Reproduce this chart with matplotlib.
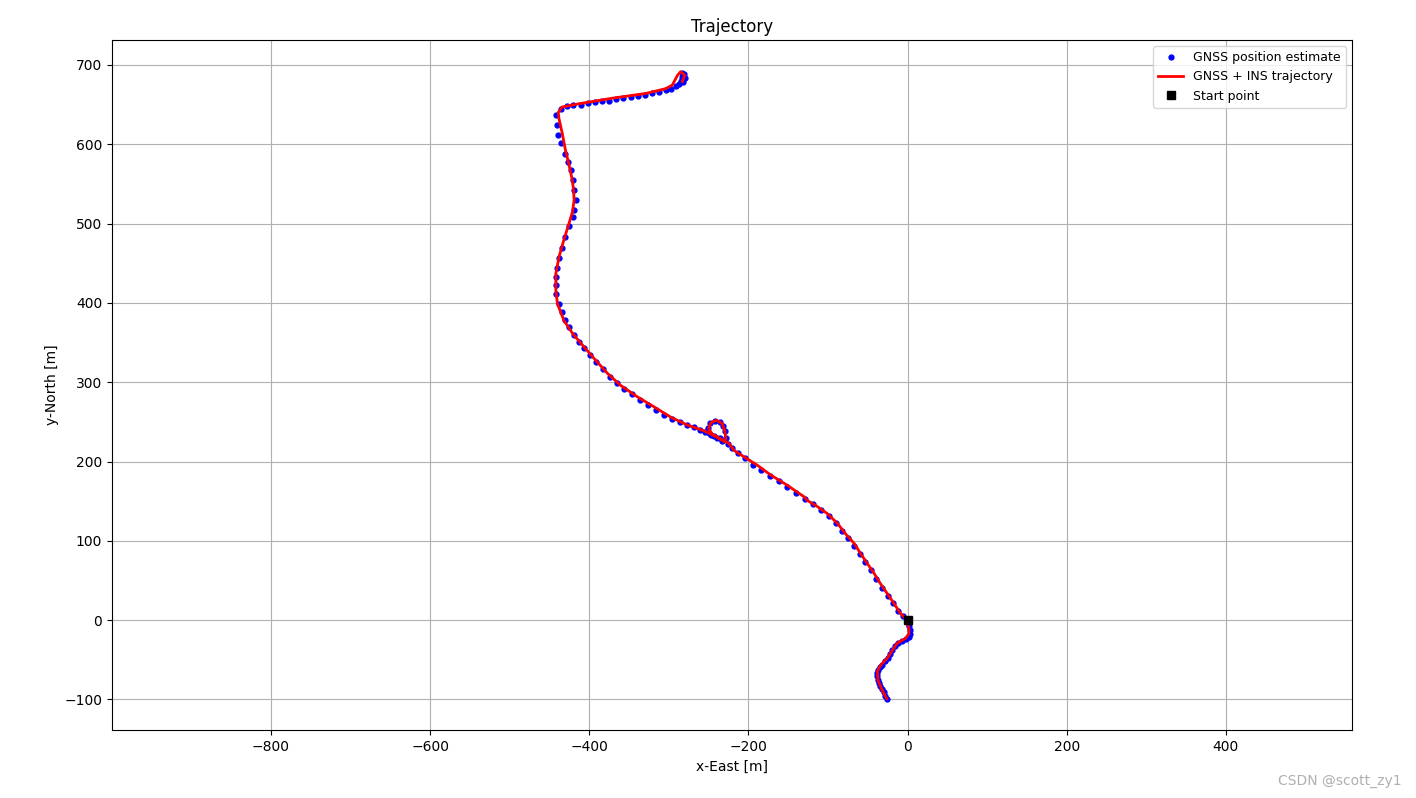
import matplotlib
matplotlib.use("Agg")
import matplotlib.pyplot as plt
import numpy as np

# GNSS position estimates
gnss_x = [-26, -28, -30, -32, -34, -36, -37, -38, -38, -37, -35, -32, -28, -25, -22, -19,
          -16, -12, -7, -2, 2, 3, 3, 2, 1, 0,
          -6, -12, -18, -25, -32, -39, -46, -53, -60, -67, -75, -82, -90, -99, -109,
          -119, -129, -140, -151, -162, -173, -184, -194, -204, -213, -221, -226,
          -228, -230, -232, -236, -242, -248, -251, -249, -243, -236,
          -233, -240, -247, -254, -261,
          -268, -277, -286, -296, -306, -316, -326, -336, -346, -356,
          -365, -374, -383, -391, -399, -406, -413, -419, -425, -430,
          -434, -438, -442, -442, -442, -440, -438, -434, -430, -425,
          -421, -419, -417, -419, -421, -423, -427, -431, -436, -439,
          -441, -442, -436, -428, -420, -411, -402, -393, -384, -375,
          -366, -357, -348, -339, -330, -321, -312, -304, -297, -291,
          -287, -285, -283, -284, -281, -280, -282]
gnss_y = [-99, -95, -91, -87, -83, -79, -75, -71, -67, -63, -59, -56, -52, -48, -43, -38,
          -33, -29, -26, -24, -21, -17, -12, -8, -4, 0,
          5, 12, 21, 31, 41, 52, 63, 73, 83, 94, 104, 113, 122, 131, 139,
          146, 153, 160, 168, 175, 182, 189, 196, 204, 211, 217, 222,
          230, 238, 245, 250, 251, 248, 242, 236, 232, 229,
          226, 229, 233, 237, 240,
          243, 246, 250, 254, 259, 265, 271, 278, 285, 292,
          299, 307, 316, 325, 334, 343, 351, 360, 369, 378,
          389, 399, 411, 422, 433, 444, 456, 469, 483, 497,
          508, 517, 530, 542, 555, 567, 578, 588, 601, 612,
          624, 637, 645, 648, 649, 650, 652, 653, 654, 655,
          657, 658, 659, 661, 662, 664, 666, 668, 670, 673,
          676, 680, 685, 690, 689, 684, 678]

# GNSS + INS fused trajectory
traj_x = [-26, -32, -37, -38, -34, -25.5, -19, -13, -2.5, 1.7, 1.7, 0, 0,
          -8.8, -17, -25.5, -34, -42, -50.6, -59, -67, -78, -88, -101, -113, -126,
          -130, -151, -172, -189, -205.6, -218, -224.5,
          -236, -246, -250, -247, -240, -233, -229.5, -228.5, -230,
          -240, -252, -262, -276.8, -297.7, -318.7, -339.6, -360.6, -377, -394,
          -408.7, -421, -432, -440, -442, -442, -438, -432, -425.5, -421, -419,
          -420, -422, -425, -430, -434, -438, -439, -434, -413, -371, -329, -304,
          -295.6, -289, -285, -280, -283]
traj_y = [-99, -88, -76, -65, -57, -48, -38, -29, -23, -17, -10.5, -4, 0,
          8.4, 21, 33.6, 46, 59, 71.5, 84, 96.7, 109, 122, 134.5, 143, 151,
          155.5, 170, 183, 195.5, 206, 214, 222.8,
          229, 235, 242, 249, 252, 248, 238, 229, 225,
          231, 237, 241, 246, 256, 269, 281.6, 296, 311, 330,
          347, 361.5, 378, 399, 416, 437, 458, 479, 500, 515, 530,
          545, 558, 572, 593, 614, 632, 640, 647, 651, 658, 664, 670,
          674.6, 687, 691.5, 687, 679]

start_x = [0]
start_y = [0]

fig, ax = plt.subplots(figsize=(14.16, 7.98), dpi=100)
plt.subplots_adjust(left=0.079, right=0.955, bottom=0.085, top=0.95)

ax.plot(gnss_x, gnss_y, 'b.', markersize=7, label='GNSS position estimate')
ax.plot(traj_x, traj_y, 'r-', linewidth=2, label='GNSS + INS trajectory')
ax.plot(start_x, start_y, 'ks', markersize=6, label='Start point')

ax.set_xlim(-1000, 559)
ax.set_ylim(-138.7, 731.5)
ax.set_xticks([-800, -600, -400, -200, 0, 200, 400])
ax.set_title('Trajectory', fontsize=12)
ax.set_xlabel('x-East [m]')
ax.set_ylabel('y-North [m]')
ax.grid(True)
ax.legend(loc='upper right', fontsize=9)

fig.text(0.99, 0.012, 'CSDN @scott_zy1', ha='right', va='bottom',
         fontsize=10, color='#b0b0b0')

plt.savefig('out.png')
